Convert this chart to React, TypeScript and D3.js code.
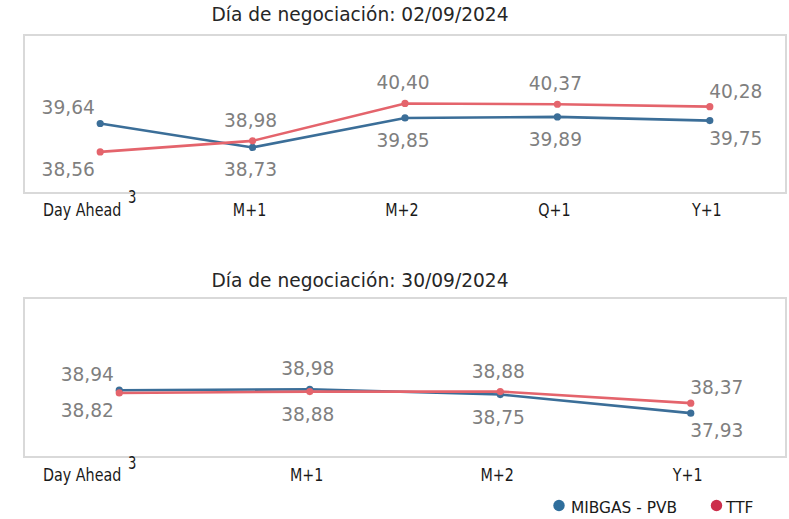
import React from "react";
import * as d3 from "d3";

const categories1 = ["Day Ahead", "M+1", "M+2", "Q+1", "Y+1"];
const mibgas1 = [39.64, 38.73, 39.85, 39.89, 39.75];
const ttf1 = [38.56, 38.98, 40.4, 40.37, 40.28];
const title1 = "Día de negociación: 02/09/2024";
const yDomain1: [number, number] = [37, 43];

const categories2 = ["Day Ahead", "M+1", "M+2", "Y+1"];
const mibgas2 = [38.94, 38.98, 38.75, 37.93];
const ttf2 = [38.82, 38.88, 38.88, 38.37];
const title2 = "Día de negociación: 30/09/2024";
const yDomain2: [number, number] = [36, 43];

const seriesNames = ["MIBGAS - PVB", "TTF"];
const footnote = "3";

const FONT = "'DejaVu Sans', 'Liberation Sans', sans-serif";
const AXIS_FONT = "'DejaVu Sans Condensed', 'DejaVu Sans', sans-serif";
const AXIS_SX = 0.86;
const LINE_COLORS = ["#3b6e98", "#e4646c"];
const LEGEND_COLORS = ["#2f6e9c", "#cc2f4b"];
const LABEL_COLOR = "#7f7f7f";

const fmt = (v: number) => d3.format(".2f")(v).replace(".", ",");

type ChartProps = {
  top: number;
  bottom: number;
  categories: string[];
  series: number[][];
  title: string;
  domain: [number, number];
  titleGap: number;
  axisGap: number;
  supGap: number;
};

function AxisText({ x, y, anchor, size, children }: { x: number; y: number; anchor: string; size: number; children: React.ReactNode }) {
  return (
    <text
      transform={`translate(${x},${y}) scale(${AXIS_SX},1)`}
      textAnchor={anchor}
      fontFamily={AXIS_FONT}
      fontSize={size}
      fill="#1a1a1a"
    >
      {children}
    </text>
  );
}

function Chart({ top, bottom, categories, series, title, domain, titleGap, axisGap, supGap }: ChartProps) {
  const left = 24;
  const right = 786;
  const x = d3.scaleBand<string>().domain(categories).range([left, right]);
  const y = d3.scaleLinear().domain(domain).range([bottom, top]);
  const cx = (c: string) => (x(c) ?? 0) + x.bandwidth() / 2;
  const line = d3
    .line<number>()
    .x((_, i) => cx(categories[i]))
    .y((v) => y(v));
  const n = categories.length;

  const labels: { x: number; y: number; text: string }[] = [];
  categories.forEach((c, i) => {
    const a = series[0][i];
    const b = series[1][i];
    const upperIdx = a >= b ? 0 : 1;
    const edge = i === 0 ? -1 : i === n - 1 ? 1 : 0;
    series.forEach((s, si) => {
      const v = s[i];
      const isUpper = si === upperIdx;
      const dx = edge === -1 ? -32 : edge === 1 ? 26 : -2;
      const dy = isUpper ? (edge !== 0 ? -9 : -14) : edge !== 0 ? 24 : 29;
      labels.push({ x: cx(c) + dx, y: y(v) + dy, text: fmt(v) });
    });
  });

  return (
    <g>
      <text
        x={360}
        y={top - titleGap}
        textAnchor="middle"
        fontFamily={FONT}
        fontSize={18.6}
        fill="#262626"
      >
        {title}
      </text>
      <rect
        x={left}
        y={top}
        width={right - left}
        height={bottom - top}
        fill="#fff"
        stroke="#d9d9d9"
        strokeWidth={2}
      />
      {series.map((s, si) => (
        <g key={si}>
          <path d={line(s) ?? ""} fill="none" stroke={LINE_COLORS[si]} strokeWidth={2.6} />
          {s.map((v, i) => (
            <circle key={i} cx={cx(categories[i])} cy={y(v)} r={3.6} fill={LINE_COLORS[si]} />
          ))}
        </g>
      ))}
      {labels.map((l, i) => (
        <text
          key={i}
          x={l.x}
          y={l.y}
          textAnchor="middle"
          fontFamily={FONT}
          fontSize={18.6}
          fill={LABEL_COLOR}
        >
          {l.text}
        </text>
      ))}
      {categories.map((c, i) =>
        i === 0 ? (
          <g key={c}>
            <AxisText x={left + 19} y={bottom + axisGap} anchor="start" size={18.5}>
              {c}
            </AxisText>
            <AxisText x={left + 104} y={bottom + supGap} anchor="start" size={17}>
              {footnote}
            </AxisText>
          </g>
        ) : (
          <AxisText key={c} x={cx(c) - 3} y={bottom + axisGap} anchor="middle" size={18.5}>
            {c}
          </AxisText>
        )
      )}
    </g>
  );
}

export default function App() {
  return (
    <svg
      width={789}
      height={519}
      style={{ position: "absolute", left: 0, top: 0, background: "#fff" }}
    >
      <rect x={0} y={0} width={789} height={519} fill="#fff" />
      <Chart
        top={35}
        bottom={193}
        categories={categories1}
        series={[mibgas1, ttf1]}
        title={title1}
        domain={yDomain1}
        titleGap={14.5}
        axisGap={23}
        supGap={10}
      />
      <Chart
        top={298}
        bottom={457}
        categories={categories2}
        series={[mibgas2, ttf2]}
        title={title2}
        domain={yDomain2}
        titleGap={11}
        axisGap={24}
        supGap={12}
      />
      <g fontFamily={FONT} fontSize={15.4} fill="#1a1a1a">
        <circle cx={559} cy={505.5} r={5.7} fill={LEGEND_COLORS[0]} />
        <text x={571} y={512.5}>{seriesNames[0]}</text>
        <circle cx={716.5} cy={505.5} r={5.7} fill={LEGEND_COLORS[1]} />
        <text x={726} y={512.5}>{seriesNames[1]}</text>
      </g>
    </svg>
  );
}
